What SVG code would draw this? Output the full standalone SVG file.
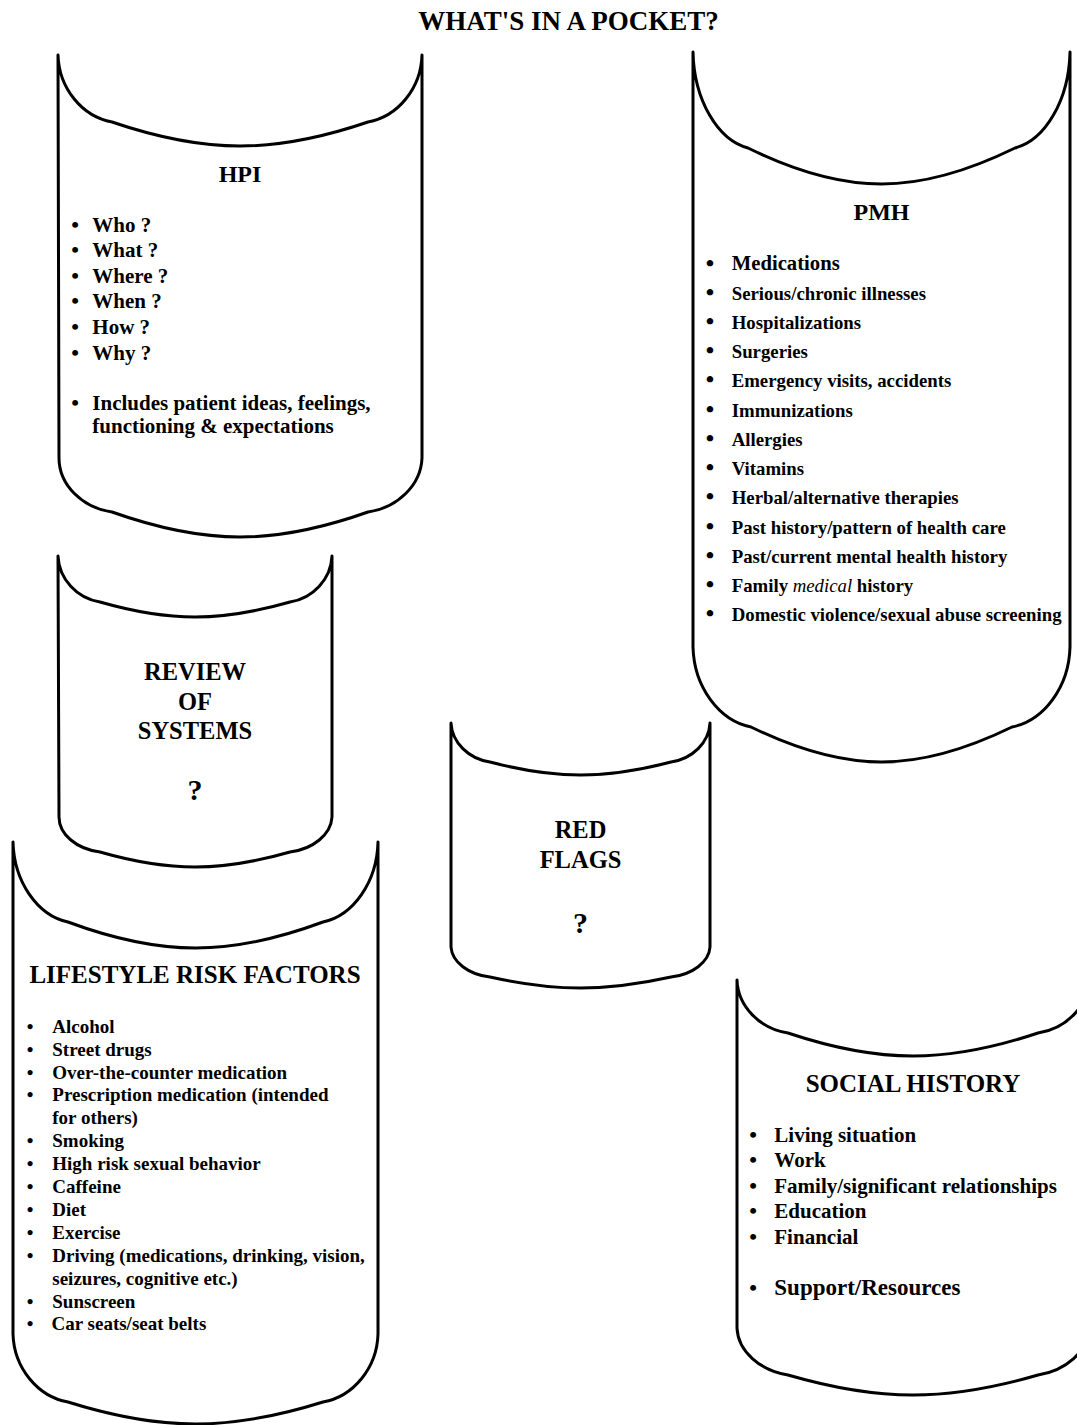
<svg xmlns="http://www.w3.org/2000/svg" width="1077" height="1425" viewBox="0 0 1077 1425">
<style>
text{font-family:"Liberation Serif","Times New Roman",serif;font-weight:bold;fill:#000}
.pocket{fill:#fff;stroke:#000;stroke-width:3;stroke-linejoin:round}
.c{text-anchor:middle}
.b{text-anchor:middle}
.hpi{font-size:21px}
.hpi .b{font-size:22px}
.pmh{font-size:18.8px}
.pmh .b{font-size:24px}
.ls{font-size:19px}
.sh{font-size:21px}
.sh .b{font-size:22px}
.big{font-size:24.5px}
.q{font-size:30px}
</style>
<rect width="1077" height="1425" fill="#fff"/>
<text class="c" x="568.5" y="30" font-size="27">WHAT'S IN A POCKET?</text>

<g id="lifestyle">
<path class="pocket" d="M13,842 C14,882 37.75,915.6 68,922 Q138.1,948 195.5,948 Q252.9,948 323,922 C353.25,915.6 377,882 378,842 L378,1334 C377,1368 353.25,1396.6 323,1402 Q252.9,1424 195.5,1424 Q138.1,1424 68,1402 C37.75,1396.6 14,1368 13,1334 Z"/>
<text class="c" x="195" y="983.3" font-size="25">LIFESTYLE RISK FACTORS</text>
<g class="ls">
<text class="b" x="30" y="1032.7">•</text><text x="52.3" y="1032.7">Alcohol</text>
<text class="b" x="30" y="1055.6">•</text><text x="52.3" y="1055.6">Street drugs</text>
<text class="b" x="30" y="1078.5">•</text><text x="52.3" y="1078.5">Over-the-counter medication</text>
<text class="b" x="30" y="1101.4">•</text><text x="52.3" y="1101.4">Prescription medication (intended</text>
<text x="52.3" y="1124.3">for others)</text>
<text class="b" x="30" y="1147.2">•</text><text x="52.3" y="1147.2">Smoking</text>
<text class="b" x="30" y="1170.1">•</text><text x="52.3" y="1170.1">High risk sexual behavior</text>
<text class="b" x="30" y="1193">•</text><text x="52.3" y="1193">Caffeine</text>
<text class="b" x="30" y="1215.9">•</text><text x="52.3" y="1215.9">Diet</text>
<text class="b" x="30" y="1238.8">•</text><text x="52.3" y="1238.8">Exercise</text>
<text class="b" x="30" y="1261.7">•</text><text x="52.3" y="1261.7">Driving (medications, drinking, vision,</text>
<text x="52.3" y="1284.6">seizures, cognitive etc.)</text>
<text class="b" x="30" y="1307.5">•</text><text x="52.3" y="1307.5">Sunscreen</text>
<text class="b" x="30" y="1330.4">•</text><text x="51.5" y="1330.4">Car seats/seat belts</text>
</g>
</g>

<g id="hpi">
<path class="pocket" d="M58,55 C59,88.5 82.3,116.6 112,122 Q182.4,146 240,146 Q297.6,146 368,122 C397.7,116.6 421,88.5 422,55 L422,458 C421,485 397.7,507.7 368,512 Q297.6,537 240,537 Q182.4,537 112,512 C82.3,507.7 59,485 59,458 Z"/>
<text class="c" x="240" y="182" font-size="24">HPI</text>
<g class="hpi">
<text class="b" x="75" y="231.7">•</text><text x="92.3" y="231.7">Who ?</text>
<text class="b" x="75" y="257.3">•</text><text x="92.3" y="257.3">What ?</text>
<text class="b" x="75" y="282.8">•</text><text x="92.3" y="282.8">Where ?</text>
<text class="b" x="75" y="308.4">•</text><text x="92.3" y="308.4">When ?</text>
<text class="b" x="75" y="333.9">•</text><text x="92.3" y="333.9">How ?</text>
<text class="b" x="75" y="359.5">•</text><text x="92.3" y="359.5">Why ?</text>
<text class="b" x="75" y="410">•</text><text x="92.3" y="410">Includes patient ideas, feelings,</text>
<text x="92.3" y="433.4">functioning &amp; expectations</text>
</g>
</g>

<g id="pmh">
<path class="pocket" d="M693,52 C694,100 717.8,140.3 748,148 Q821.4,184 881.5,184 Q941.6,184 1015,148 C1045.2,140.3 1069,100 1070,52 L1070,647 C1069,687 1043.9,720.6 1012,727 Q940.2,762 881.5,762 Q822.8,762 751,727 C719.1,720.6 694,687 693,647 Z"/>
<text class="c" x="881.5" y="220" font-size="24">PMH</text>
<g class="pmh">
<text class="b" x="710" y="270.5">•</text><text x="731.7" y="270" font-size="20.7">Medications</text>
<text class="b" x="710" y="299.5">•</text><text x="731.7" y="299.5">Serious/chronic illnesses</text>
<text class="b" x="710" y="328.8">•</text><text x="731.7" y="328.8">Hospitalizations</text>
<text class="b" x="710" y="358">•</text><text x="731.7" y="358">Surgeries</text>
<text class="b" x="710" y="387.3">•</text><text x="731.7" y="387.3">Emergency visits, accidents</text>
<text class="b" x="710" y="416.5">•</text><text x="731.7" y="416.5">Immunizations</text>
<text class="b" x="710" y="445.8">•</text><text x="731.7" y="445.8">Allergies</text>
<text class="b" x="710" y="475">•</text><text x="731.7" y="475">Vitamins</text>
<text class="b" x="710" y="504.3">•</text><text x="731.7" y="504.3">Herbal/alternative therapies</text>
<text class="b" x="710" y="533.5">•</text><text x="731.7" y="533.5">Past history/pattern of health care</text>
<text class="b" x="710" y="562.8">•</text><text x="731.7" y="562.8">Past/current mental health history</text>
<text class="b" x="710" y="592">•</text><text x="731.7" y="592">Family <tspan font-style="italic" font-weight="normal">medical</tspan> history</text>
<text class="b" x="710" y="621.3">•</text><text x="731.7" y="621.3">Domestic violence/sexual abuse screening</text>
</g>
</g>

<g id="review-of-systems">
<path class="pocket" d="M58,556 C59,579 76.9,598.3 100,602 Q152.25,617 195,617 Q237.75,617 290,602 C313.1,598.3 331,579 332,556 L332,817 C331,834.5 313.1,849.2 290,852 Q237.75,867 195,867 Q152.25,867 100,852 C76.9,849.2 59,834.5 59,817 Z"/>
<g class="big">
<text class="c" x="195" y="680">REVIEW</text>
<text class="c" x="195" y="710">OF</text>
<text class="c" x="195" y="739.3">SYSTEMS</text>
</g>
<text class="c q" x="195" y="800">?</text>
</g>

<g id="red-flags">
<path class="pocket" d="M451,723 C452,742.5 468.6,758.9 490,762 Q539.8,775 580.5,775 Q621.2,775 671,762 C692.5,758.9 709,742.5 710,723 L710,947 C709,962 692.5,974.6 671,977 Q621.2,988 580.5,988 Q539.8,988 490,977 C468.6,974.6 452,962 451,947 Z"/>
<g class="big">
<text class="c" x="580.5" y="838.3">RED</text>
<text class="c" x="580.5" y="868.3">FLAGS</text>
</g>
<text class="c q" x="580.5" y="933.3">?</text>
</g>

<g id="social-history">
<path class="pocket" d="M737,980 C738,1006.5 759.95,1028.8 788,1033 Q856.75,1056 913,1056 Q969.25,1056 1038,1033 C1066.05,1028.8 1088,1006.5 1089,980 L1089,1328 C1088,1351.5 1066.05,1370.2 1038,1375 Q969.25,1395 913,1395 Q856.75,1395 788,1375 C759.95,1370.2 738,1351.5 737,1328 Z"/>
<text class="c" x="913" y="1092" font-size="25">SOCIAL HISTORY</text>
<g class="sh">
<text class="b" x="753" y="1141.7">•</text><text x="774.3" y="1141.7">Living situation</text>
<text class="b" x="753" y="1166.7">•</text><text x="774.3" y="1166.7">Work</text>
<text class="b" x="753" y="1192.5">•</text><text x="774.3" y="1192.5">Family/significant relationships</text>
<text class="b" x="753" y="1218">•</text><text x="774.3" y="1218">Education</text>
<text class="b" x="753" y="1244">•</text><text x="774.3" y="1244">Financial</text>
<text class="b" x="753" y="1295" font-size="23">•</text><text x="774.3" y="1295" font-size="23">Support/Resources</text>
</g>
</g>
</svg>
